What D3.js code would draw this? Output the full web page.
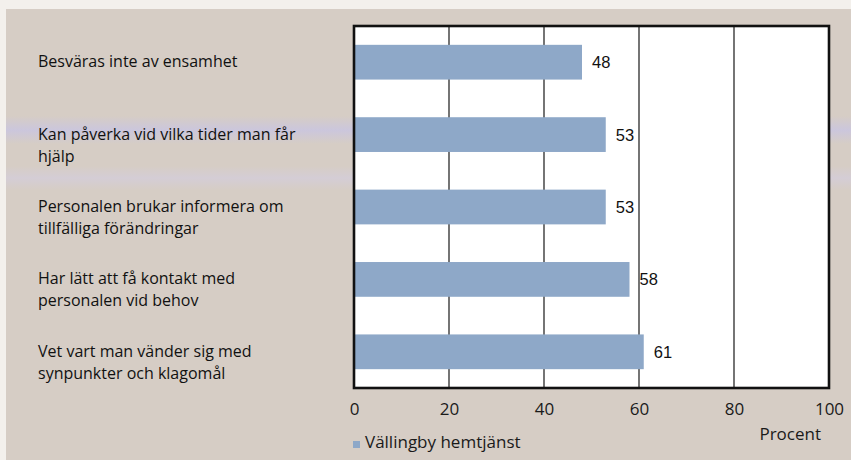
<!DOCTYPE html>
<html>
<head>
<meta charset="utf-8">
<script src="https://cdn.jsdelivr.net/npm/d3@7"></script>
<style>
  html, body { margin: 0; padding: 0; background: #f3f0ec; }
  svg { display: block; }
</style>
</head>
<body>
<svg id="chart" width="851" height="460"></svg>
<script>
// ---- data ----
const categories = [
  ["Besväras inte av ensamhet"],
  ["Kan påverka vid vilka tider man får", "hjälp"],
  ["Personalen brukar informera om", "tillfälliga förändringar"],
  ["Har lätt att få kontakt med", "personalen vid behov"],
  ["Vet vart man vänder sig med", "synpunkter och klagomål"]
];
const values = [48, 53, 53, 58, 61];
const tickValues = [0, 20, 40, 60, 80, 100];
const seriesName = "Vällingby hemtjänst";
const axisTitle = "Procent";

// ---- layout ----
const W = 851, H = 460;
const plot = { left: 354, right: 829, top: 26, bottom: 388 };
const barColor = "#8ea8c8";
const bg = "#d6cdc5";
const font = "Open Sans, sans-serif";

const svg = d3.select("#chart");

// background (scanned page)
svg.append("rect").attr("x", 6).attr("y", 9).attr("width", W - 6).attr("height", H - 9).attr("fill", bg);

// faint lavender scan bands
const defs = svg.append("defs");
function band(id, col, op) {
  const g = defs.append("linearGradient").attr("id", id).attr("x1", 0).attr("y1", 0).attr("x2", 0).attr("y2", 1);
  g.append("stop").attr("offset", "0%").attr("stop-color", col).attr("stop-opacity", 0);
  g.append("stop").attr("offset", "50%").attr("stop-color", col).attr("stop-opacity", op);
  g.append("stop").attr("offset", "100%").attr("stop-color", col).attr("stop-opacity", 0);
}
band("bandA", "#c4c2ec", 0.6);
band("bandB", "#d2cdea", 0.45);
svg.append("rect").attr("x", 6).attr("y", 116).attr("width", W - 6).attr("height", 28).attr("fill", "url(#bandA)");
svg.append("rect").attr("x", 6).attr("y", 166).attr("width", W - 6).attr("height", 24).attr("fill", "url(#bandB)");

const x = d3.scaleLinear().domain([0, 100]).range([plot.left, plot.right]);
const y = d3.scaleBand()
  .domain(d3.range(categories.length))
  .range([plot.top, plot.bottom])
  .paddingInner(0.52)
  .paddingOuter(0.26);

// plot area
svg.append("rect")
  .attr("x", plot.left).attr("y", plot.top)
  .attr("width", plot.right - plot.left).attr("height", plot.bottom - plot.top)
  .attr("fill", "#ffffff");

// grid lines
svg.append("g")
  .selectAll("line")
  .data(tickValues.filter(t => t > 0 && t < 100))
  .join("line")
  .attr("x1", d => x(d)).attr("x2", d => x(d))
  .attr("y1", plot.top).attr("y2", plot.bottom)
  .attr("stroke", "#3a3a3a").attr("stroke-width", 1.4);

// bars
svg.append("g")
  .selectAll("rect")
  .data(values)
  .join("rect")
  .attr("x", x(0))
  .attr("y", (d, i) => y(i))
  .attr("width", d => x(d) - x(0))
  .attr("height", y.bandwidth())
  .attr("fill", barColor);

// value labels
svg.append("g")
  .selectAll("text")
  .data(values)
  .join("text")
  .attr("x", d => x(d) + 10)
  .attr("y", (d, i) => y(i) + y.bandwidth() / 2 + 6)
  .attr("font-family", "Liberation Sans, Arial, sans-serif")
  .attr("font-size", 16.5)
  .attr("fill", "#111")
  .text(d => d);

// frame
svg.append("rect")
  .attr("x", plot.left).attr("y", plot.top)
  .attr("width", plot.right - plot.left).attr("height", plot.bottom - plot.top)
  .attr("fill", "none").attr("stroke", "#111").attr("stroke-width", 2.6);

// x axis (tick labels only)
const xAxis = d3.axisBottom(x).tickValues(tickValues).tickSize(0).tickPadding(15);
const gx = svg.append("g").attr("transform", `translate(0,${plot.bottom})`).call(xAxis);
gx.select(".domain").remove();
gx.selectAll("text")
  .attr("font-family", font)
  .attr("font-size", 17)
  .attr("fill", "#1a1a1a");

// axis title
svg.append("text")
  .attr("x", x(100) - 8).attr("y", 440)
  .attr("text-anchor", "end")
  .attr("font-family", font)
  .attr("font-size", 17)
  .attr("fill", "#1a1a1a")
  .text(axisTitle);

// category labels
const lab = svg.append("g");
categories.forEach((lines, i) => {
  lines.forEach((ln, j) => {
    lab.append("text")
      .attr("x", 38)
      .attr("y", y(i) + y.bandwidth() / 2 + 5 + j * 22)
      .attr("font-family", font)
      .attr("font-size", 16)
      .attr("fill", "#111")
      .text(ln);
  });
});

// legend
svg.append("rect")
  .attr("x", x(0) - 1).attr("y", 441)
  .attr("width", 7).attr("height", 7)
  .attr("fill", barColor);
svg.append("text")
  .attr("x", x(0) + 11).attr("y", 448)
  .attr("font-family", font)
  .attr("font-size", 17)
  .attr("fill", "#1a1a1a")
  .text(seriesName);
</script>
</body>
</html>
